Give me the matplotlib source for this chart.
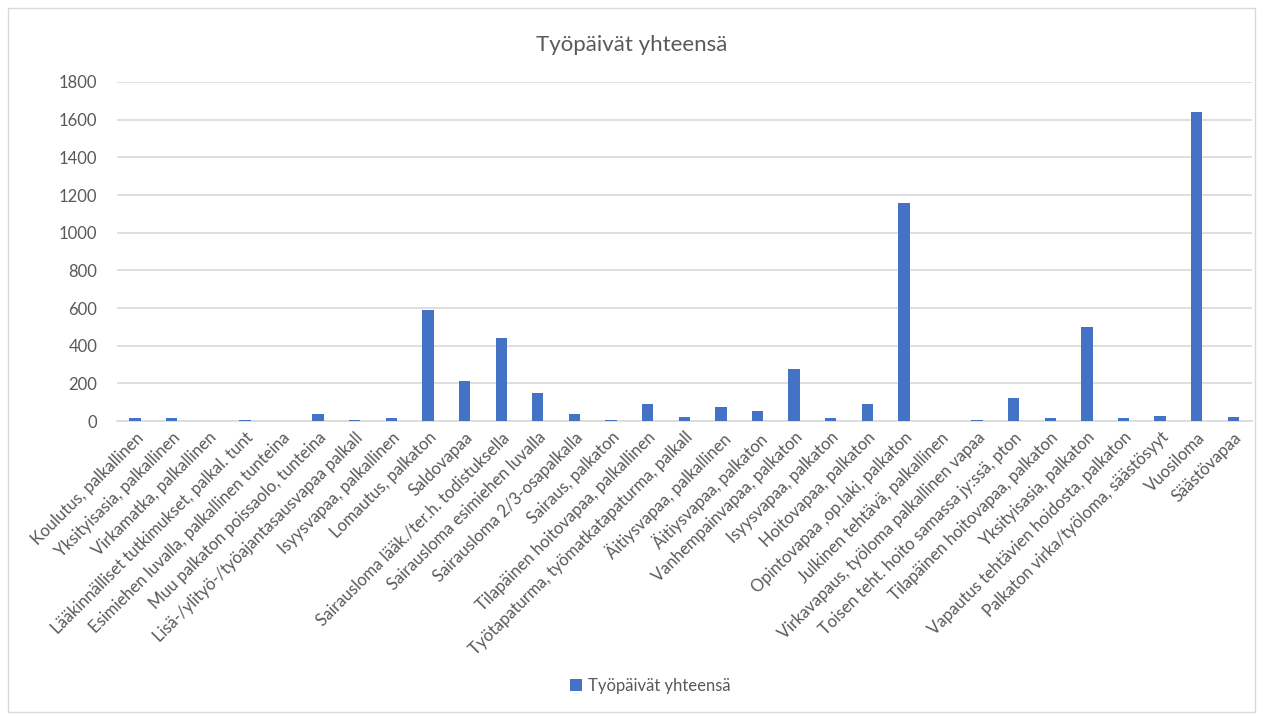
import matplotlib.pyplot as plt
from matplotlib.patches import Rectangle

categories = [
    'Koulutus, palkallinen',
    'Yksityisasia, palkallinen',
    'Virkamatka, palkallinen',
    'Lääkinnälliset tutkimukset, palkal. tunt',
    'Esimiehen luvalla, palkallinen tunteina',
    'Muu palkaton poissaolo, tunteina',
    'Lisä-/ylityö-/työajantasausvapaa palkall',
    'Isyysvapaa, palkallinen',
    'Lomautus, palkaton',
    'Saldovapaa',
    'Sairausloma lääk./ter.h. todistuksella',
    'Sairausloma esimiehen luvalla',
    'Sairausloma 2/3-osapalkalla',
    'Sairaus, palkaton',
    'Tilapäinen hoitovapaa, palkallinen',
    'Työtapaturma, työmatkatapaturma, palkall',
    'Äitiysvapaa, palkallinen',
    'Äitiysvapaa, palkaton',
    'Vanhempainvapaa, palkaton',
    'Isyysvapaa, palkaton',
    'Hoitovapaa, palkaton',
    'Opintovapaa ,op.laki, palkaton',
    'Julkinen tehtävä, palkallinen',
    'Virkavapaus, työloma palkallinen vapaa',
    'Toisen teht. hoito samassa jy:ssä, pton',
    'Tilapäinen hoitovapaa, palkaton',
    'Yksityisasia, palkaton',
    'Vapautus tehtävien hoidosta, palkaton',
    'Palkaton virka/työloma, säästösyyt',
    'Vuosiloma',
    'Säästövapaa',
]
tyopaivat = [15, 15, 0, 6, 0, 40, 8, 15, 590, 210, 440, 148, 40, 8, 90, 21,
             74, 53, 276, 15, 90, 1158, 0, 8, 122, 15, 500, 15, 27, 1640, 21]
series_name = 'Työpäivät yhteensä'
yticks = [0, 200, 400, 600, 800, 1000, 1200, 1400, 1600, 1800]

plt.rcParams['font.family'] = ['Lato', 'DejaVu Sans']
grey = '#595959'
blue = '#4472C4'

fig = plt.figure(figsize=(12.63, 7.18), dpi=100)
ax = fig.add_axes([0.0925, 0.4136, 0.8985, 0.4722])

x = range(len(categories))
ax.bar(x, tyopaivat, width=0.31, color=blue, label=series_name, zorder=3)

ax.set_xlim(-0.5, len(categories) - 0.5)
ax.set_ylim(0, 1800)
ax.set_yticks(yticks)
ax.set_yticklabels([str(v) for v in yticks], color=grey, fontsize=12)
ax.set_xticks(list(x))
ax.set_xticklabels(categories, rotation=45, ha='right', va='top',
                   rotation_mode='anchor', color=grey, fontsize=12)
ax.tick_params(axis='both', length=0)
ax.tick_params(axis='y', pad=14)
ax.tick_params(axis='x', pad=6)

ax.grid(axis='y', color='#D9D9D9', linewidth=1.2, zorder=0)
for s in ['top', 'right', 'left']:
    ax.spines[s].set_visible(False)
ax.spines['bottom'].set_color('#D9D9D9')
ax.spines['bottom'].set_linewidth(1.2)

fig.text(0.5, 0.937, series_name, ha='center', va='center', fontsize=16, color=grey)

fig.legend(loc='center', bbox_to_anchor=(0.515, 0.045), frameon=False,
           fontsize=12, labelcolor=grey, handlelength=0.7, handleheight=0.7,
           handletextpad=0.4)

fig.patches.append(Rectangle((8 / 1263, 6 / 718), 1247 / 1263, 704 / 718,
                             transform=fig.transFigure, fill=False,
                             edgecolor='#D9D9D9', linewidth=1))

fig.savefig('out.png', dpi=100, facecolor='white')
